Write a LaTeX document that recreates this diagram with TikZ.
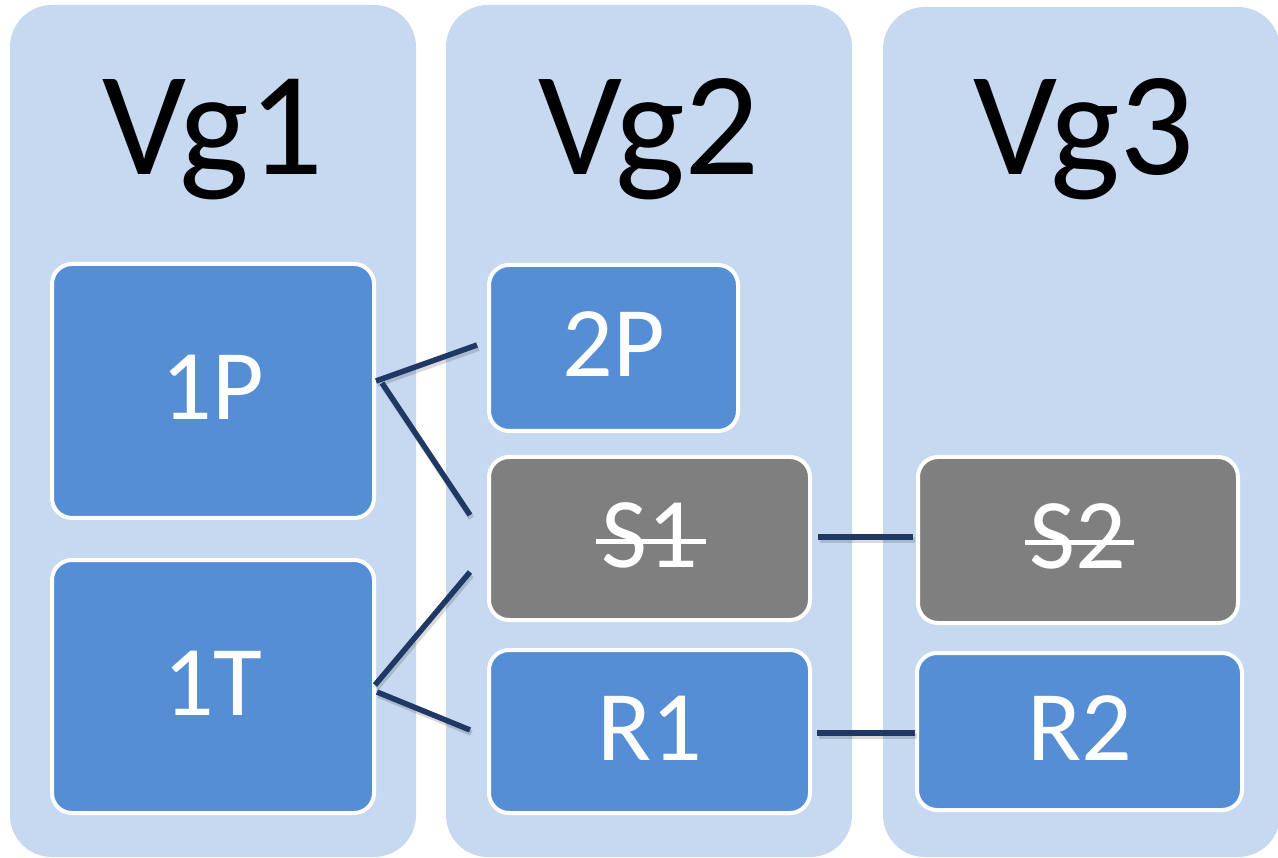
\documentclass[tikz,border=0pt]{standalone}
\usepackage{fontspec}
\setmainfont{Carlito}
\usetikzlibrary{calc}
\definecolor{colbg}{HTML}{C6D9F1}
\definecolor{boxblue}{HTML}{558ED5}
\definecolor{boxgray}{HTML}{7F7F7F}
\definecolor{linkcol}{HTML}{1F3864}
\newsavebox\strkbox
\newcommand\strk[1]{\sbox\strkbox{#1}\rlap{\hspace{-5pt}\rule[23pt]{\dimexpr\wd\strkbox+13pt\relax}{5pt}}\usebox\strkbox}
\begin{document}
\begin{tikzpicture}[x=1pt,y=-1pt,
  group/.style={fill=colbg, rounded corners=42pt},
  title/.style={anchor=base, inner sep=0pt, font=\fontsize{148pt}{150pt}\selectfont},
  item/.style={draw=white, line width=4pt, rounded corners=20pt, text=white,
    font=\fontsize{100pt}{110pt}\selectfont, text height=65pt, text depth=8pt, inner sep=0pt},
  bluebox/.style={item, fill=boxblue},
  graybox/.style={item, fill=boxgray},
  link/.style={draw=linkcol, line width=5.5pt,
    preaction={draw=black, opacity=0.15, line width=6pt, transform canvas={shift={(1.5pt,-3pt)}}}}]
\useasboundingbox (0,0) rectangle (1278,858);
\fill[white] (0,0) rectangle (1278,858);
% groups
\path[group] (10,5) rectangle (416,857);
\path[group] (446,5) rectangle (852,857);
\path[group] (883,7) rectangle (1280,857);
\node[title] (t1) at (213,175) {Vg1};
\node[title] (t2) at (649,175) {Vg2};
\node[title] (t3) at (1084,175) {Vg3};
% boxes
\node[bluebox, minimum width=322pt, minimum height=254pt] (n1P) at (213,391) {1P};
\node[bluebox, minimum width=322pt, minimum height=253pt] (n1T) at (213,686.5) {1T};
\node[bluebox, minimum width=249pt, minimum height=166pt] (n2P) at (613.5,348) {2P};
\node[graybox, minimum width=321pt, minimum height=163pt] (nS1) at (649.5,538.5) {\strk{S1}};
\node[bluebox, minimum width=321pt, minimum height=163pt] (nR1) at (649.5,731.5) {R1};
\node[graybox, minimum width=320pt, minimum height=166pt] (nS2) at (1078,540) {\strk{S2}};
\node[bluebox, minimum width=325pt, minimum height=157pt] (nR2) at (1079.5,731.5) {R2};
% connectors
\draw[link] ($(n1P.east)+(0,-10)$) -- ($(n2P.west)+(-10,-3)$);
\draw[link] ($(n1P.east)+(6,-8)$) -- ($(nS1.west)+(-17,-23.5)$);
\draw[link] ($(n1T.east)+(-1,-1.5)$) -- ($(nS1.west)+(-17,33.5)$);
\draw[link] ($(n1T.east)+(1,5.5)$) -- ($(nR1.west)+(-17,-1.5)$);
\draw[link] ($(nS1.east)+(6,-1.5)$) -- ($(nS2.west)+(-3,-3)$);
\draw[link] ($(nR1.east)+(5,1.5)$) -- ($(nR2.west)+(0,1.5)$);
\end{tikzpicture}
\end{document}
